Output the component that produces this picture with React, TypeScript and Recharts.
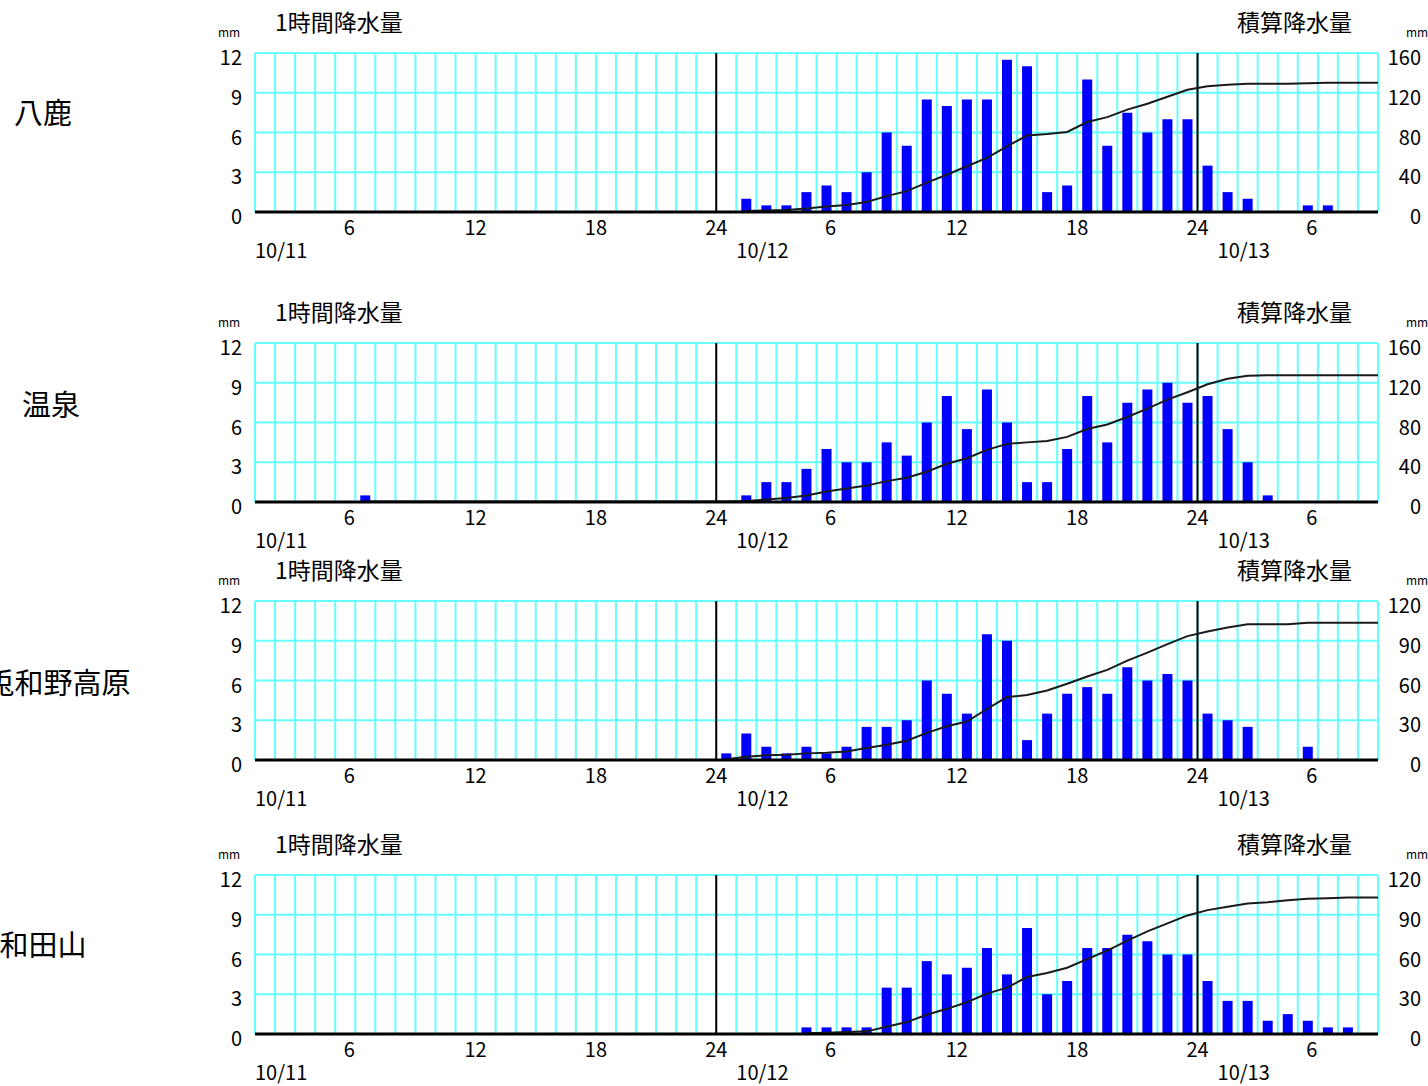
import { Bar, CartesianGrid, ComposedChart, Line, ReferenceLine, XAxis, YAxis } from "recharts"

const FONT = "'Noto Sans CJK JP', 'Noto Sans', sans-serif"

// 1時間ごとのセル (10/11 0時からの通し時間で、セルの開始時刻)
const hourStarts = Array.from({ length: 56 }, (_, i) => i + 1)
const gridHours = Array.from({ length: 57 }, (_, i) => i + 1)
const endHour = 57

const hourTicks = [6, 12, 18, 24, 30, 36, 42, 48, 54]
const hourLabels = ["6", "12", "18", "24", "6", "12", "18", "24", "6"]
const dateTicks = [1, 25, 49]
const dateLabels = ["10/11", "10/12", "10/13"]
const dayLines = [24, 48]

const rainTicks = [0, 3, 6, 9, 12]
const cumTicks160 = [0, 40, 80, 120, 160]
const cumTicks120 = [0, 30, 60, 90, 120]

// 1時間降水量 mm : 10/11 1-23時 / 10/12 0-23時 / 10/13 0-8時
const yokaRain = [
  0, 0, 0, 0, 0, 0, 0, 0, 0, 0, 0, 0, 0, 0, 0, 0, 0, 0, 0, 0, 0, 0, 0,
  0, 1, 0.5, 0.5, 1.5, 2, 1.5, 3, 6, 5, 8.5, 8, 8.5, 8.5, 11.5, 11, 1.5, 2, 10, 5, 7.5, 6, 7, 7,
  3.5, 1.5, 1, 0, 0, 0.5, 0.5, 0, 0,
]
const onsenRain = [
  0, 0, 0, 0, 0, 0.5, 0, 0, 0, 0, 0, 0, 0, 0, 0, 0, 0, 0, 0, 0, 0, 0, 0,
  0, 0.5, 1.5, 1.5, 2.5, 4, 3, 3, 4.5, 3.5, 6, 8, 5.5, 8.5, 6, 1.5, 1.5, 4, 8, 4.5, 7.5, 8.5, 9, 7.5,
  8, 5.5, 3, 0.5, 0, 0, 0, 0, 0,
]
const uwanoRain = [
  0, 0, 0, 0, 0, 0, 0, 0, 0, 0, 0, 0, 0, 0, 0, 0, 0, 0, 0, 0, 0, 0, 0,
  0.5, 2, 1, 0.5, 1, 0.5, 1, 2.5, 2.5, 3, 6, 5, 3.5, 9.5, 9, 1.5, 3.5, 5, 5.5, 5, 7, 6, 6.5, 6,
  3.5, 3, 2.5, 0, 0, 1, 0, 0, 0,
]
const wadayamaRain = [
  0, 0, 0, 0, 0, 0, 0, 0, 0, 0, 0, 0, 0, 0, 0, 0, 0, 0, 0, 0, 0, 0, 0,
  0, 0, 0, 0, 0.5, 0.5, 0.5, 0.5, 3.5, 3.5, 5.5, 4.5, 5, 6.5, 4.5, 8, 3, 4, 6.5, 6.5, 7.5, 7, 6, 6,
  4, 2.5, 2.5, 1, 1.5, 1, 0.5, 0.5, 0,
]

const CYAN = "#66ffff"

function XTick({ x, y, payload }: any) {
  const v = payload.value
  const hi = hourTicks.indexOf(v)
  const di = dateTicks.indexOf(v)
  return (
    <g>
      {hi >= 0 && (
        <text x={x + (hourLabels[hi].length === 1 ? -6 : 0)} y={y + 23} textAnchor="middle" fontSize={20} fill="#000" fontFamily={FONT}>
          {hourLabels[hi]}
        </text>
      )}
      {di >= 0 && (
        <text x={x} y={y + 46} textAnchor="start" fontSize={20} fill="#000" fontFamily={FONT}>
          {dateLabels[di]}
        </text>
      )}
    </g>
  )
}

function LeftTick({ x, y, payload }: any) {
  return (
    <text x={x} y={y + 12} textAnchor="end" fontSize={20} fill="#000" fontFamily={FONT}>
      {payload.value}
    </text>
  )
}

function RightTick({ x, y, payload }: any) {
  return (
    <text x={x + 43} y={y + 12} textAnchor="end" fontSize={20} fill="#000" fontFamily={FONT}>
      {payload.value}
    </text>
  )
}

function RainChart({ top, rain, cumTicks }: { top: number; rain: number[]; cumTicks: number[] }) {
  let sum = 0
  let started = false
  const data: { t: number; rain: number | null; cum: number | null }[] = hourStarts.map((h, i) => {
    sum += rain[i]
    if (rain[i] > 0) started = true
    return { t: h + 0.5, rain: rain[i], cum: started ? sum : null }
  })
  // 積算の線は右端まで伸ばす
  data.push({ t: endHour, rain: null, cum: sum })
  const cumMax = cumTicks[cumTicks.length - 1]

  return (
    <div style={{ position: "absolute", left: 0, top, width: 1428, height: 270 }}>
      <div style={{ position: "absolute", left: 275, top: 4, fontSize: 23, lineHeight: "34px", whiteSpace: "nowrap" }}>1時間降水量</div>
      <div style={{ position: "absolute", left: 1237, top: 4, fontSize: 23, lineHeight: "34px", whiteSpace: "nowrap" }}>積算降水量</div>
      <div style={{ position: "absolute", left: 218, top: 25, fontSize: 12, lineHeight: "14px", whiteSpace: "nowrap" }}>mm</div>
      <div style={{ position: "absolute", left: 1406, top: 25, fontSize: 12, lineHeight: "14px", whiteSpace: "nowrap" }}>mm</div>
      <ComposedChart width={1428} height={270} data={data} margin={{ top: 53, right: 0, bottom: 8, left: 215 }}>
        <CartesianGrid stroke={CYAN} strokeWidth={2} />
        <XAxis
          dataKey="t"
          type="number"
          domain={[1, endHour]}
          ticks={gridHours}
          interval={0}
          height={50}
          tickSize={0}
          tickMargin={0}
          tickLine={false}
          axisLine={{ stroke: "#000", strokeWidth: 3 }}
          tick={<XTick />}
        />
        <YAxis
          domain={[0, 12]}
          ticks={rainTicks}
          width={40}
          tickSize={0}
          tickMargin={13}
          tickLine={false}
          axisLine={false}
          tick={<LeftTick />}
        />
        <YAxis
          yAxisId="right"
          orientation="right"
          domain={[0, cumMax]}
          ticks={cumTicks}
          width={50}
          tickSize={0}
          tickMargin={0}
          tickLine={false}
          axisLine={false}
          tick={<RightTick />}
        />
        {dayLines.map((d) => (
          <ReferenceLine key={d} x={d} stroke="#000" strokeWidth={2} />
        ))}
        <Line
          yAxisId="right"
          dataKey="cum"
          type="linear"
          stroke="#1a1a1a"
          strokeWidth={2}
          dot={false}
          isAnimationActive={false}
        />
        <Bar dataKey="rain" fill="#0000ff" barSize={10} isAnimationActive={false} />
      </ComposedChart>
    </div>
  )
}

function StationName({ text, cx, cy }: { text: string; cx: number; cy: number }) {
  return (
    <div
      style={{
        position: "absolute",
        left: cx - 100,
        top: cy - 20,
        width: 200,
        height: 40,
        lineHeight: "40px",
        textAlign: "center",
        fontSize: 29,
        whiteSpace: "nowrap",
      }}
    >
      {text}
    </div>
  )
}

export default function App() {
  return (
    <div
      style={{
        position: "absolute",
        left: 0,
        top: 0,
        width: 1428,
        height: 1086,
        overflow: "hidden",
        background: "#fff",
        fontFamily: FONT,
        color: "#000",
      }}
    >
      <StationName text="八鹿" cx={43} cy={111} />
      <StationName text="温泉" cx={51} cy={403} />
      <StationName text="兎和野高原" cx={58} cy={681} />
      <StationName text="和田山" cx={43} cy={943} />
      <RainChart top={0} rain={yokaRain} cumTicks={cumTicks160} />
      <RainChart top={290} rain={onsenRain} cumTicks={cumTicks160} />
      <RainChart top={548} rain={uwanoRain} cumTicks={cumTicks120} />
      <RainChart top={822} rain={wadayamaRain} cumTicks={cumTicks120} />
    </div>
  )
}
